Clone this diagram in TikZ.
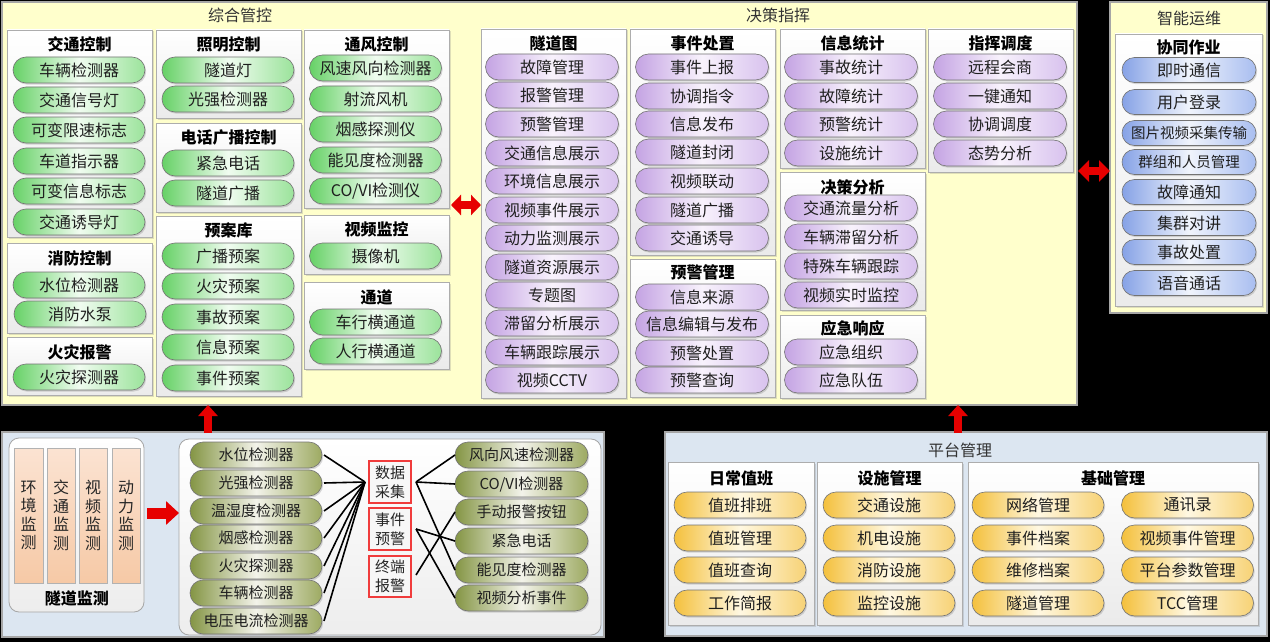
\documentclass[tikz,border=0pt]{standalone}
\usepackage{fontspec}
\setmainfont{Noto Sans CJK SC}
\usetikzlibrary{arrows.meta,shadows}
\definecolor{gL}{HTML}{66D166}\definecolor{gM}{HTML}{F0FCF0}\definecolor{gR}{HTML}{9BE39B}
\definecolor{pL}{HTML}{C4A3E3}\definecolor{pM}{HTML}{F8F2FC}\definecolor{pR}{HTML}{D8C2EE}
\definecolor{bL}{HTML}{86A2E6}\definecolor{bM}{HTML}{F0F4FC}\definecolor{bR}{HTML}{A9BEF0}
\definecolor{oL}{HTML}{849544}\definecolor{oM}{HTML}{F3F3EA}\definecolor{oR}{HTML}{9DAA62}
\definecolor{yL}{HTML}{F4C03C}\definecolor{yM}{HTML}{FFF8E2}\definecolor{yR}{HTML}{F7D275}
\definecolor{panelY}{HTML}{FFFFCC}\definecolor{panelB}{HTML}{DCE6F1}
\definecolor{peachT}{HTML}{FBE3D2}\definecolor{peachB}{HTML}{F6C9A6}
\definecolor{arrRed}{HTML}{E60000}
\definecolor{boxRed}{HTML}{F03C3C}
\newcommand\mkbox[7]{%
  \pgfmathsetmacro\pbw{#5-#3}\pgfmathsetmacro\pbh{#6-#4}%
  \pgfmathsetmacro\pbx{(#3+#5)/2}\pgfmathsetmacro\pby{(#4+#6)/2}%
  \node[#1, minimum width=\pbw pt, minimum height=\pbh pt] (#2) at (\pbx,\pby) {#7};}
\begin{document}
\begin{tikzpicture}[x=1pt,y=-1pt,
 every node/.style={inner sep=0pt, outer sep=0pt},
 txt/.style={font=\fontsize{16}{19}\selectfont, text=black!88},
 ttl/.style={font=\fontsize{16}{19}\selectfont\bfseries, text=black},
 ptl/.style={font=\fontsize{16}{19}\selectfont, text=black!80},
 pill/.style={txt, rounded corners=13pt, minimum height=26pt, draw=black!55, line width=0.6pt, drop shadow={shadow xshift=1.2pt, shadow yshift=-1.6pt, opacity=0.3}},
 gp/.style={pill, minimum width=132pt, left color=gL, right color=gR, middle color=gM},
 pp/.style={pill, minimum width=133pt, left color=pL, right color=pR, middle color=pM},
 bp/.style={pill, minimum width=134pt, minimum height=25pt, rounded corners=12.5pt, left color=bL, right color=bR, middle color=bM},
 op/.style={pill, minimum width=132pt, font=\fontsize{15}{18}\selectfont, left color=oL, right color=oR, middle color=oM},
 yp/.style={pill, minimum width=132pt, left color=yL, right color=yR, middle color=yM},
 small/.style={font=\fontsize{14.5}{17}\selectfont},
 sbox/.style={draw=black!32, line width=0.8pt, top color=white, bottom color=black!8, drop shadow={shadow xshift=1.5pt, shadow yshift=-1.5pt, opacity=0.25}},
 ypanel/.style={draw=black!35, line width=1.2pt, fill=panelY},
 bpanel/.style={draw=black!35, line width=1.2pt, fill=panelB},
 wbox/.style={draw=black!35, line width=0.8pt, rounded corners=10pt, top color=white, bottom color=black!7},
 pcol/.style={draw=black!30, line width=0.6pt, top color=peachT, bottom color=peachB, align=center, font=\fontsize{16}{18.5}\selectfont, text=black!85},
 rbox/.style={draw=boxRed, line width=1.1pt, fill=black!3, align=center, font=\fontsize{15}{19}\selectfont, text=black!85, drop shadow={shadow xshift=1.2pt, shadow yshift=-1.2pt, opacity=0.25}},
 wire/.style={line width=1.6pt, black},
 redarr/.style={line width=8pt, arrRed}
]
\fill[black] (0,0) rectangle (1270,642);
\useasboundingbox (0,0) rectangle (1270,642);

% ---------- main panels ----------
\mkbox{ypanel}{zhgk}{2}{2}{1077}{405}{}
\mkbox{ypanel}{znyw}{1110}{2}{1267}{313}{}
\mkbox{bpanel}{jcpanel}{2}{432}{604}{637}{}
\mkbox{bpanel}{ptgl}{665}{432}{1267}{636}{}

\node[ptl] (tzh) at (240,15) {综合管控};
\node[ptl] (tjc) at (778,15) {决策指挥};
\node[ptl] (tzn) at (1189,18) {智能运维};
\node[ptl] (tpt) at (960,450) {平台管理};

% ---------- sub boxes ----------
\mkbox{sbox}{bjt}{7}{30}{152}{237}{}
\mkbox{sbox}{bxf}{7}{243}{152}{333}{}
\mkbox{sbox}{bhz}{7}{337}{152}{395}{}
\mkbox{sbox}{bzm}{156}{30}{301}{118}{}
\mkbox{sbox}{bdh}{156}{123}{301}{212}{}
\mkbox{sbox}{bya}{156}{216}{301}{396}{}
\mkbox{sbox}{btf}{304}{30}{449}{208}{}
\mkbox{sbox}{bsp}{304}{215}{449}{274}{}
\mkbox{sbox}{btd}{304}{282}{449}{369}{}
\mkbox{sbox}{bsdt}{481}{29}{626}{398}{}
\mkbox{sbox}{bsj}{630}{29}{775}{255}{}
\mkbox{sbox}{byj}{630}{259}{775}{397}{}
\mkbox{sbox}{bxx}{780}{29}{925}{168}{}
\mkbox{sbox}{bjc}{780}{172}{925}{310}{}
\mkbox{sbox}{byy}{780}{315}{925}{398}{}
\mkbox{sbox}{bzh}{928}{29}{1073}{172}{}
\mkbox{sbox}{bxt}{1115}{34}{1262}{306}{}
\mkbox{sbox}{brc}{668}{462}{814}{625}{}
\mkbox{sbox}{bss}{817}{462}{962}{625}{}
\mkbox{sbox}{bjg}{968}{462}{1258}{625}{}

% ---------- titles ----------
\node[ttl] (h1) at (79.5,44) {交通控制};
\node[ttl] (h2) at (79.5,258) {消防控制};
\node[ttl] (h3) at (79.5,352) {火灾报警};
\node[ttl] (h4) at (228.5,44) {照明控制};
\node[ttl] (h5) at (228.5,137) {电话广播控制};
\node[ttl] (h6) at (228.5,230) {预案库};
\node[ttl] (h7) at (376.5,44) {通风控制};
\node[ttl] (h8) at (376.5,229) {视频监控};
\node[ttl] (h9) at (376.5,297) {通道};
\node[ttl] (h10) at (553.5,43) {隧道图};
\node[ttl] (h11) at (702.5,43) {事件处置};
\node[ttl] (h12) at (702.5,272) {预警管理};
\node[ttl] (h13) at (852.5,43) {信息统计};
\node[ttl] (h14) at (852.5,187) {决策分析};
\node[ttl] (h15) at (852.5,328) {应急响应};
\node[ttl] (h16) at (1000.5,43) {指挥调度};
\node[ttl] (h17) at (1188.5,47) {协同作业};
\node[ttl] (h18) at (741,478) {日常值班};
\node[ttl] (h19) at (889.5,478) {设施管理};
\node[ttl] (h20) at (1113,478) {基础管理};

% ---------- column 1 ----------
\node[gp] (c11) at (79,70) {车辆检测器};
\node[gp] (c12) at (79,100) {交通信号灯};
\node[gp] (c13) at (79,130) {可变限速标志};
\node[gp] (c14) at (79,161) {车道指示器};
\node[gp] (c15) at (79,191) {可变信息标志};
\node[gp] (c16) at (79,222) {交通诱导灯};
\node[gp] (c17) at (79,285) {水位检测器};
\node[gp] (c18) at (80,314) {消防水泵};
\node[gp] (c19) at (79,377) {火灾探测器};
% ---------- column 2 ----------
\node[gp] (c21) at (228,70) {隧道灯};
\node[gp] (c22) at (228,99) {光强检测器};
\node[gp] (c23) at (228,163) {紧急电话};
\node[gp] (c24) at (228,193) {隧道广播};
\node[gp] (c25) at (228,256) {广播预案};
\node[gp] (c26) at (228,286) {火灾预案};
\node[gp] (c27) at (228,317) {事故预案};
\node[gp] (c28) at (228,347) {信息预案};
\node[gp] (c29) at (228,378) {事件预案};
% ---------- column 3 ----------
\node[gp] (c31) at (375.5,68) {风速风向检测器};
\node[gp] (c32) at (375.5,99) {射流风机};
\node[gp] (c33) at (375.5,129) {烟感探测仪};
\node[gp] (c34) at (375.5,160) {能见度检测器};
\node[gp] (c35) at (375.5,191) {CO/VI检测仪};
\node[gp] (c36) at (375.5,256) {摄像机};
\node[gp] (c37) at (375.5,322) {车行横通道};
\node[gp] (c38) at (375.5,351) {人行横通道};
% ---------- column 4 ----------
\node[pp] (c41) at (552,67) {故障管理};
\node[pp] (c42) at (552,95) {报警管理};
\node[pp] (c43) at (552,124) {预警管理};
\node[pp] (c44) at (552,153) {交通信息展示};
\node[pp] (c45) at (552,181) {环境信息展示};
\node[pp] (c46) at (552,210) {视频事件展示};
\node[pp] (c47) at (552,238) {动力监测展示};
\node[pp] (c48) at (552,267) {隧道资源展示};
\node[pp] (c49) at (552,295) {专题图};
\node[pp] (c4a) at (552,323) {滞留分析展示};
\node[pp] (c4b) at (552,352) {车辆跟踪展示};
\node[pp] (c4c) at (552,380) {视频CCTV};
% ---------- column 5 ----------
\node[pp] (c51) at (702,67) {事件上报};
\node[pp] (c52) at (702,96) {协调指令};
\node[pp] (c53) at (702,124) {信息发布};
\node[pp] (c54) at (702,152) {隧道封闭};
\node[pp] (c55) at (702,181) {视频联动};
\node[pp] (c56) at (702,210) {隧道广播};
\node[pp] (c57) at (702,238) {交通诱导};
\node[pp] (c58) at (702,297) {信息来源};
\node[pp] (c59) at (702,324) {信息编辑与发布};
\node[pp] (c5a) at (702,353) {预警处置};
\node[pp] (c5b) at (702,380) {预警查询};
% ---------- column 6 ----------
\node[pp] (c61) at (851,67) {事故统计};
\node[pp] (c62) at (851,96) {故障统计};
\node[pp] (c63) at (851,124) {预警统计};
\node[pp] (c64) at (851,153) {设施统计};
\node[pp] (c65) at (851,208) {交通流量分析};
\node[pp] (c66) at (851,237) {车辆滞留分析};
\node[pp] (c67) at (851,266) {特殊车辆跟踪};
\node[pp] (c68) at (851,295) {视频实时监控};
\node[pp] (c69) at (851,352) {应急组织};
\node[pp] (c6a) at (851,380) {应急队伍};
% ---------- column 7 ----------
\node[pp] (c71) at (1000,67) {远程会商};
\node[pp] (c72) at (1000,96) {一键通知};
\node[pp] (c73) at (1000,124) {协调调度};
\node[pp] (c74) at (1000,153) {态势分析};
% ---------- smart ops ----------
\node[bp] (c81) at (1189,70) {即时通信};
\node[bp] (c82) at (1189,102) {用户登录};
\node[bp,small] (c83) at (1189,133) {图片视频采集传输};
\node[bp,small] (c84) at (1189,162) {群组和人员管理};
\node[bp] (c85) at (1189,192) {故障通知};
\node[bp] (c86) at (1189,223) {集群对讲};
\node[bp] (c87) at (1189,252) {事故处置};
\node[bp] (c88) at (1189,283) {语音通话};

% ---------- platform management ----------
\node[yp] (p11) at (740,505) {值班排班};
\node[yp] (p12) at (740,538) {值班管理};
\node[yp] (p13) at (740,570) {值班查询};
\node[yp] (p14) at (740,603) {工作简报};
\node[yp] (p21) at (889,505) {交通设施};
\node[yp] (p22) at (889,538) {机电设施};
\node[yp] (p23) at (889,570) {消防设施};
\node[yp] (p24) at (889,603) {监控设施};
\node[yp] (p31) at (1038,505) {网络管理};
\node[yp] (p32) at (1038,538) {事件档案};
\node[yp] (p33) at (1038,570) {维修档案};
\node[yp] (p34) at (1038,603) {隧道管理};
\node[yp] (p41) at (1187.5,505) {通讯录};
\node[yp] (p42) at (1187.5,538) {视频事件管理};
\node[yp] (p43) at (1187.5,570) {平台参数管理};
\node[yp] (p44) at (1187.5,603) {TCC管理};

% ---------- tunnel monitoring ----------
\mkbox{wbox}{w1}{9}{438}{144}{612}{}
\mkbox{wbox}{w2}{179}{439}{601}{635}{}
\mkbox{pcol}{m1}{14}{448}{43}{583}{环\\境\\监\\测}
\mkbox{pcol}{m2}{47}{448}{75}{583}{交\\通\\监\\测}
\mkbox{pcol}{m3}{79}{448}{107}{583}{视\\频\\监\\测}
\mkbox{pcol}{m4}{112}{448}{140}{583}{动\\力\\监\\测}
\node[ttl] (h21) at (77,598) {隧道监测};

\node[op] (l1) at (256,455) {水位检测器};
\node[op] (l2) at (256,483) {光强检测器};
\node[op] (l3) at (256,511) {温湿度检测器};
\node[op] (l4) at (256,538) {烟感检测器};
\node[op] (l5) at (256,566) {火灾探测器};
\node[op] (l6) at (256,593) {车辆检测器};
\node[op] (l7) at (256,621) {电压电流检测器};

\mkbox{rbox}{dc}{369}{461}{411}{503}{数据\\采集}
\mkbox{rbox}{yj}{369}{508}{411}{550}{事件\\预警}
\mkbox{rbox}{zd}{369}{556}{411}{597}{终端\\报警}

\node[op,minimum width=133pt] (r1) at (521.5,455) {风向风速检测器};
\node[op,minimum width=133pt] (r2) at (521.5,484) {CO/VI检测器};
\node[op,minimum width=133pt] (r3) at (521.5,512) {手动报警按钮};
\node[op,minimum width=133pt] (r4) at (521.5,541) {紧急电话};
\node[op,minimum width=133pt] (r5) at (521.5,570) {能见度检测器};
\node[op,minimum width=133pt] (r6) at (521.5,598) {视频分析事件};

\coordinate (dcL) at (365,482);
\coordinate (dcR) at (416,482);
\coordinate (yjR) at (416,529);
\coordinate (zdR) at (416,575);
\foreach \n in {l1,l2,l3,l4,l5,l6,l7} \draw[wire] (\n.east) ++(2,0) -- (dcL);
\draw[wire] (dcR) -- (r1.west);
\draw[wire] (dcR) -- (r2.west);
\draw[wire] (dcR) -- (r5.west);
\draw[wire] (yjR) -- (r4.west);
\draw[wire] (yjR) -- (r6.west);
\draw[wire] (zdR) -- (r3.west);

% ---------- red arrows ----------
\coordinate (ua1) at (208,433); \coordinate (ub1) at (208,405);
\coordinate (ua2) at (958,433); \coordinate (ub2) at (958,405);
\draw[redarr, -{Triangle[width=19pt,length=11pt]}] (ua1) -- (ub1);
\draw[redarr, -{Triangle[width=19pt,length=11pt]}] (ua2) -- (ub2);
\coordinate (ra) at (147,513); \coordinate (rb) at (179,513);
\draw[redarr, line width=11pt, -{Triangle[width=23pt,length=13pt]}] (ra) -- (rb);
\coordinate (da1) at (451,205); \coordinate (da2) at (481,205);
\draw[redarr, {Triangle[width=20pt,length=10pt]}-{Triangle[width=20pt,length=10pt]}] (da1) -- (da2);
\coordinate (db1) at (1078,171); \coordinate (db2) at (1110,171);
\draw[redarr, {Triangle[width=21pt,length=11pt]}-{Triangle[width=21pt,length=11pt]}] (db1) -- (db2);
\end{tikzpicture}
\end{document}
